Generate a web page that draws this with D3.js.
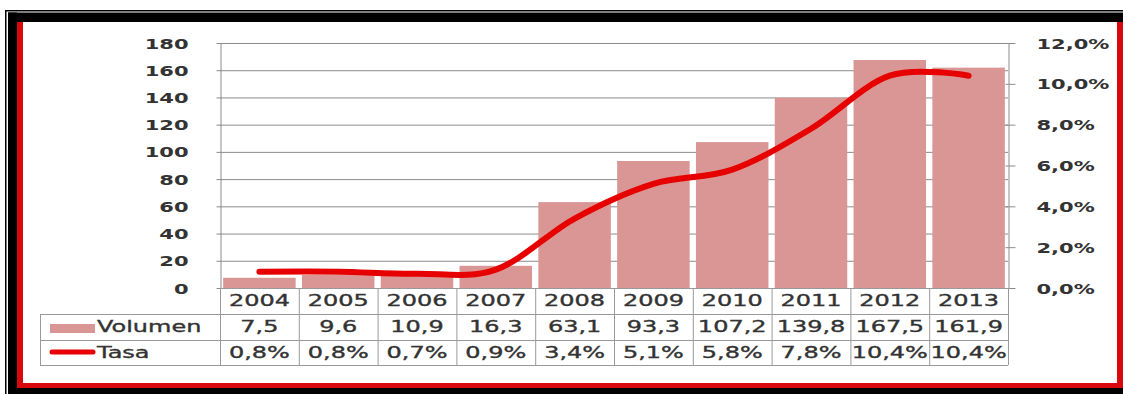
<!DOCTYPE html>
<html><head><meta charset="utf-8">
<script src="https://cdn.jsdelivr.net/npm/d3@7"></script>
<style>
html,body{margin:0;padding:0;background:#fff;}
svg{display:block;}
text{font-family:"DejaVu Sans",Verdana,sans-serif;}
</style></head>
<body>
<svg id="c" width="1123" height="394"></svg>
<script>
const years = ["2004","2005","2006","2007","2008","2009","2010","2011","2012","2013"];
const volumen = [7.5,9.6,10.9,16.3,63.1,93.3,107.2,139.8,167.5,161.9];
const tasa = [0.8,0.8,0.7,0.9,3.4,5.1,5.8,7.8,10.4,10.4];
const leftTicks = [0,20,40,60,80,100,120,140,160,180];
const rightTicks = [0,2,4,6,8,10,12];
const seriesNames = ["Volumen","Tasa"];

const svg = d3.select("#c");
const W = 1123, H = 394;
const L = 220, R = 1008, T = 43, B = 288;
const SX = 1.5;
const barColor = "#d99694", lineColor = "#e60000", gridColor = "#8c8c8c", txt = "#333";

// frame
svg.append("rect").attr("x",0).attr("y",0).attr("width",W).attr("height",H).attr("fill","#fff");
svg.append("rect").attr("x",5).attr("y",10).attr("width",W-5).attr("height",1.5).attr("fill","#000");
svg.append("rect").attr("x",5).attr("y",10).attr("width",1.5).attr("height",H-10).attr("fill","#000");
svg.append("rect").attr("x",8).attr("y",12.5).attr("width",W-8).attr("height",9.5).attr("fill","#000");
svg.append("rect").attr("x",8).attr("y",12.5).attr("width",9).attr("height",H-12.5).attr("fill","#000");
svg.append("rect").attr("x",8).attr("y",388).attr("width",W-8).attr("height",6).attr("fill","#000");
svg.append("rect").attr("x",17).attr("y",22).attr("width",6).attr("height",366).attr("fill","#d8080c");
svg.append("rect").attr("x",17).attr("y",383).attr("width",W-17).attr("height",5).attr("fill","#d8080c");
svg.append("rect").attr("x",1117).attr("y",22).attr("width",6).attr("height",366).attr("fill","#d8080c");

const xCat = d3.scaleBand().domain(years).range([L,R]).padding(0);
const xBar = d3.scaleBand().domain(years).range([L,R]).paddingInner(0.08).paddingOuter(0.04);
const yL = d3.scaleLinear().domain([0,180]).range([B,T]);
const yR = d3.scaleLinear().domain([0,12]).range([B,T]);

// gridlines
svg.append("g").selectAll("line").data(leftTicks.filter(d=>d>0)).join("line")
  .attr("x1",L).attr("x2",R).attr("y1",d=>yL(d)+0.5).attr("y2",d=>yL(d)+0.5)
  .attr("stroke",gridColor).attr("stroke-width",1);

// bars
svg.append("g").selectAll("rect").data(years).join("rect")
  .attr("x",d=>xBar(d)).attr("width",xBar.bandwidth())
  .attr("y",(d,i)=>yL(volumen[i])).attr("height",(d,i)=>B-yL(volumen[i]))
  .attr("fill",barColor);

// left axis
const gL = svg.append("g").attr("transform",`translate(${L+0.5},0)`)
  .call(d3.axisLeft(yL).tickValues(leftTicks).tickSizeInner(4).tickSizeOuter(0).tickFormat(d3.format("d")));
gL.select(".domain").attr("stroke",gridColor);
gL.selectAll(".tick line").attr("stroke",gridColor);
gL.selectAll(".tick text").attr("x",0).attr("dy","0.36em")
  .attr("transform",`translate(-32,0) scale(${SX},1)`)
  .attr("font-size",14).attr("font-weight","bold").attr("fill",txt).attr("font-family","DejaVu Sans");

// right axis
const pct = v => d3.format(".1f")(v).replace(".",",") + "%";
const gR = svg.append("g").attr("transform",`translate(${R+0.5},0)`)
  .call(d3.axisRight(yR).tickValues(rightTicks).tickSizeInner(7).tickSizeOuter(0).tickFormat(pct));
gR.select(".domain").attr("stroke",gridColor);
gR.selectAll(".tick line").attr("stroke",gridColor).attr("x1",-3);
gR.selectAll(".tick text").attr("x",0).attr("dy","0.36em")
  .attr("transform",`translate(28,0) scale(${SX},1)`)
  .attr("font-size",14).attr("font-weight","bold").attr("fill",txt).attr("font-family","DejaVu Sans");

// line
const line = d3.line().x((d,i)=>xCat(years[i])+xCat.bandwidth()/2).y(d=>yR(d)).curve(d3.curveCatmullRom.alpha(0));
svg.append("path").datum(tasa).attr("d",line).attr("fill","none")
  .attr("stroke",lineColor).attr("stroke-width",6).attr("stroke-linecap","round").attr("stroke-linejoin","round");

// data table
const tg = svg.append("g");
const rowY = [B, 314, 340, 365];
const tblColor = "#999";
tg.append("line").attr("x1",L).attr("x2",R).attr("y1",B+0.5).attr("y2",B+0.5).attr("stroke",tblColor);
[rowY[1],rowY[2],rowY[3]].forEach(y=>{
  tg.append("line").attr("x1",40).attr("x2",R).attr("y1",y+0.5).attr("y2",y+0.5).attr("stroke",tblColor);
});
tg.append("line").attr("x1",40.5).attr("x2",40.5).attr("y1",rowY[1]).attr("y2",rowY[3]).attr("stroke",tblColor);
const bounds = years.map(d=>xCat(d)).concat([R]);
tg.selectAll("line.v").data(bounds).join("line").attr("class","v")
  .attr("x1",d=>d+0.5).attr("x2",d=>d+0.5).attr("y1",B).attr("y2",rowY[3]).attr("stroke",tblColor);

function stext(x,y,s,anchor){
  return tg.append("text").attr("transform",`translate(${x},${y}) scale(${SX},1)`)
    .attr("text-anchor",anchor).attr("font-size",16).attr("fill",txt)
    .attr("stroke",txt).attr("stroke-width",0.35).text(s);
}
const fmt1 = v => d3.format(".1f")(v).replace(".",",");
years.forEach((y,i)=>{
  const cx = xCat(y)+xCat.bandwidth()/2;
  stext(cx,306,y,"middle");
  stext(cx,332,fmt1(volumen[i]),"middle");
  stext(cx,358,pct(tasa[i]),"middle");
});
// legend keys
tg.append("rect").attr("x",50).attr("y",324).attr("width",45).attr("height",9).attr("fill",barColor);
tg.append("line").attr("x1",52).attr("x2",93).attr("y1",352).attr("y2",352)
  .attr("stroke",lineColor).attr("stroke-width",5).attr("stroke-linecap","round");
stext(97,332,seriesNames[0],"start");
stext(97,358,seriesNames[1],"start");
</script>
</body></html>
